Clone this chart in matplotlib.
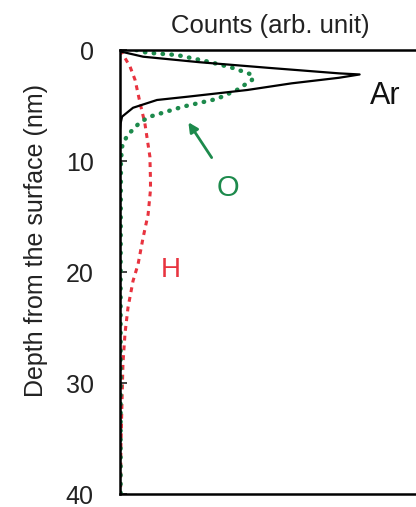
import matplotlib
matplotlib.use("Agg")
from matplotlib import pyplot as plt

plt.rcParams['font.family'] = ['Liberation Sans', 'DejaVu Sans']

# Ar profile (depth nm, counts arb.)
ar_depth = [0.0, 0.15, 0.6, 1.1, 1.6, 2.1, 2.2, 2.5, 3.0, 3.6, 4.2, 4.5, 5.2, 6.0, 6.6, 7.2, 10, 20, 30, 40]
ar_counts = [0.0, 0.5, 7.8, 27, 50, 74, 81, 74, 58, 43, 23, 12.5, 4.4, 0.7, 0.2, 0.0, 0.0, 0.0, 0.0, 0.0]

# O profile
o_depth = [0.0, 0.24, 0.45, 1.08, 1.62, 2.25, 2.7, 3.6, 4.4, 5.1, 6.0, 6.5, 7.7, 8.7, 10, 20, 30, 40]
o_counts = [5.5, 9.1, 19.3, 30.4, 38.2, 44.9, 44.6, 39.5, 32.8, 21.3, 10.1, 6.8, 2.4, 0.7, 0.3, 0.2, 0.2, 0.2]

# H profile
h_depth = [0.0, 0.27, 1.5, 2.7, 4.8, 6.6, 9.6, 11.7, 12.6, 14.8, 16.9, 19.3, 20.8, 23.2, 25.5, 28.2, 31.3, 35.8, 40]
h_counts = [0.0, 0.7, 3.4, 5.1, 6.8, 8.4, 10.1, 10.3, 10.3, 9.5, 7.8, 6.1, 4.4, 2.7, 1.7, 1.0, 0.7, 0.3, 0.2]

fig = plt.figure(figsize=(4.16, 5.07), dpi=100)
ax = fig.add_axes([0.2885, 0.0256, 0.721, 0.8757])

ax.plot(h_counts, h_depth, color="#e8333f", lw=2.2, ls=(0, (1.6, 1.6)))
ax.plot(o_counts, o_depth, color="#1d8a4c", lw=3.2, ls=(0, (0.1, 1.9)), dash_capstyle="round")
ax.plot(ar_counts, ar_depth, color="black", lw=1.6)

ax.set_xlim(0, 101.4)
ax.set_ylim(40, 0)
ax.set_yticks([0, 10, 20, 30, 40])
ax.set_xticks([])
ax.tick_params(axis="y", direction="in", length=5, width=1.2, pad=19, labelsize=18, colors="#222222")
for s in ["left", "top", "bottom"]:
    ax.spines[s].set_linewidth(1.8)
ax.spines["right"].set_visible(False)

ax.set_ylabel("Depth from the surface (nm)", fontsize=18, color="#222222")
ax.yaxis.set_label_coords(-0.24, 0.572)
ax.set_title("Counts (arb. unit)", fontsize=18.5, color="#222222", pad=12)

ax.text(89.5, 4.1, "Ar", fontsize=22, color="#111111", ha="center", va="center")
ax.text(36.5, 12.4, "O", fontsize=21, color="#1d8a4c", ha="center", va="center")
ax.text(17, 19.8, "H", fontsize=20, color="#e8333f", ha="center", va="center")
ax.annotate("", xy=(22.6, 6.3), xytext=(31.5, 9.9),
            arrowprops=dict(arrowstyle="-|>", color="#1d8a4c", lw=2, mutation_scale=14))

fig.savefig("out.png", dpi=100)
